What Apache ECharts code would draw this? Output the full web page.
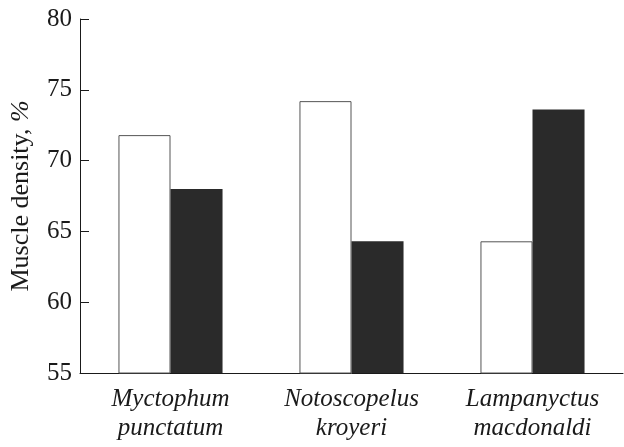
<!DOCTYPE html>
<html><head><meta charset="utf-8">
<script src="https://cdn.jsdelivr.net/npm/echarts@6/dist/echarts.min.js"></script>
<style>html,body{margin:0;padding:0;background:#fff}#c{width:624px;height:447px}</style>
</head><body><div id="c"></div>
<script>
const categories = ['Myctophum\npunctatum', 'Notoscopelus\nkroyeri', 'Lampanyctus\nmacdonaldi'];
const whiteValues = [71.8, 74.2, 64.3];
const blackValues = [68.0, 64.3, 73.6];
const yTicks = [55, 60, 65, 70, 75, 80];

const chart = echarts.init(document.getElementById('c'), null, {renderer: 'canvas'});
const font = '"Liberation Serif", "DejaVu Serif", serif';
chart.setOption({
  animation: false,
  grid: {left: 80, right: 1, top: 19, bottom: 74, containLabel: false, outerBoundsMode: 'none'},
  xAxis: {
    type: 'category',
    data: categories,
    axisLine: {lineStyle: {color: '#1a1a1a', width: 1}},
    axisTick: {inside: true, length: 6, lineStyle: {color: '#1a1a1a'}},
    axisLabel: {fontFamily: font, fontStyle: 'italic', fontSize: 25, color: '#1a1a1a', lineHeight: 29, margin: 12}
  },
  yAxis: {
    type: 'value',
    min: yTicks[0], max: yTicks[yTicks.length - 1], interval: 5,
    name: '{n|Muscle density, }{p|%}',
    nameLocation: 'middle',
    nameGap: 46,
    nameTextStyle: {
      rich: {
        n: {fontFamily: font, fontSize: 26, color: '#1a1a1a'},
        p: {fontFamily: font, fontSize: 26, fontStyle: 'italic', color: '#1a1a1a'}
      }
    },
    axisLine: {show: true, lineStyle: {color: '#1a1a1a', width: 1}},
    axisTick: {show: true, inside: true, length: 9, lineStyle: {color: '#1a1a1a'}},
    splitLine: {show: false},
    axisLabel: {fontFamily: font, fontSize: 25, color: '#1a1a1a', margin: 8}
  },
  series: [
    {type: 'bar', data: whiteValues, barGap: '0%', barCategoryGap: '42.5%',
     itemStyle: {color: '#ffffff', borderColor: '#555555', borderWidth: 1}},
    {type: 'bar', data: blackValues,
     itemStyle: {color: '#2a2a2a', borderColor: '#2a2a2a', borderWidth: 0}}
  ]
});
</script></body></html>
